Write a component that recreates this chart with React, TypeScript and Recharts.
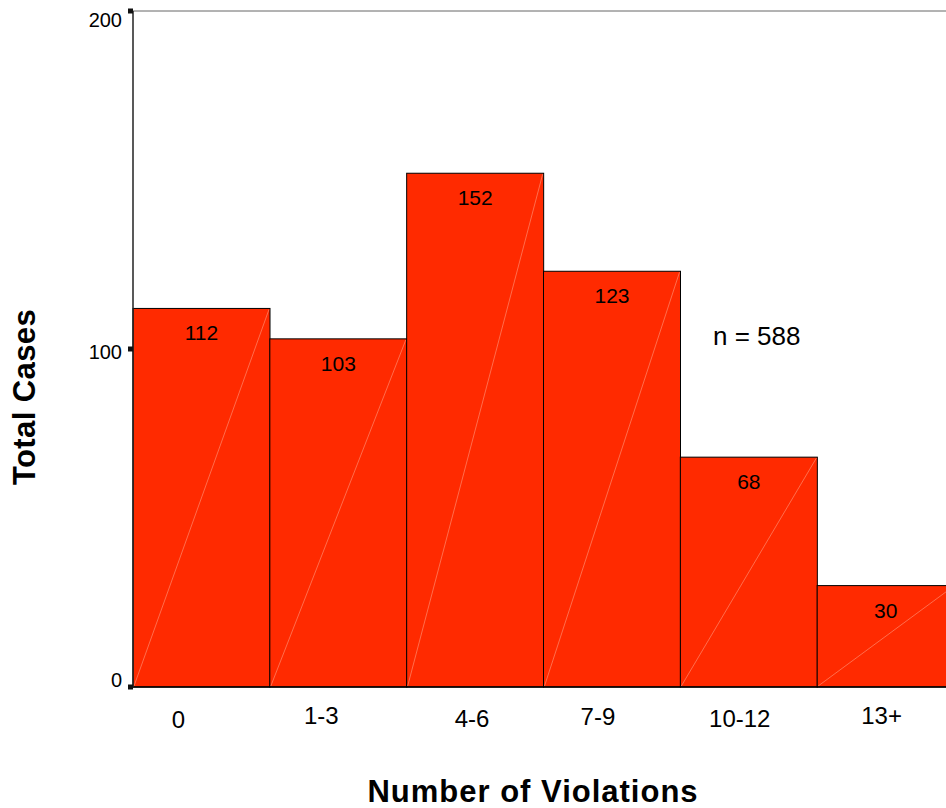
import { BarChart, Bar, XAxis, YAxis, ReferenceLine, LabelList } from "recharts";

const categories = ["0", "1-3", "4-6", "7-9", "10-12", "13+"];
const totalCases = [112, 103, 152, 123, 68, 30];
const yTicks = [0, 100, 200];
const sampleSize = 588;

const data = categories.map((c, i) => ({ range: c, cases: totalCases[i] }));

const FONT = '"Liberation Sans", Arial, sans-serif';

// the original staggers its category labels a little, keep that look
const xTickNudge = [
  { dx: -23, dy: 41 },
  { dx: -17, dy: 37 },
  { dx: -3, dy: 40 },
  { dx: -14, dy: 38 },
  { dx: -9, dy: 40 },
  { dx: -4, dy: 37 },
];
const yTickNudge: Record<number, number> = { 0: 0, 100: 10, 200: 16 };

const XTick = (props: any) => {
  const { x, y, payload, index } = props;
  const n = xTickNudge[index] ?? { dx: 0, dy: 38 };
  return (
    <text x={x + n.dx} y={y + n.dy} textAnchor="middle" fontSize={24} fontFamily={FONT} fill="#000">
      {payload.value}
    </text>
  );
};

const YTick = (props: any) => {
  const { x, y, payload } = props;
  return (
    <text x={x} y={y + (yTickNudge[payload.value] ?? 7)} textAnchor="end" fontSize={20} fontFamily={FONT} fill="#000">
      {payload.value}
    </text>
  );
};

// flat red block with the faint diagonal seam the original export has
const SeamBar = (props: any) => {
  const { x, y, width, height, fill } = props;
  return (
    <g>
      <rect x={x} y={y} width={width} height={height} fill={fill} stroke="#000" strokeWidth={1} />
      <line x1={x + 1} y1={y + height - 1} x2={x + width - 1} y2={y + 1} stroke="#ff9a80" strokeWidth={0.6} />
    </g>
  );
};

const ValueLabel = (props: any) => {
  const { x, y, width, value } = props;
  return (
    <text x={x + width / 2} y={y + 32} textAnchor="middle" fontSize={21} fontFamily={FONT} fill="#000">
      {value}
    </text>
  );
};

export default function App() {
  return (
    <div style={{ position: "fixed", left: 0, top: 0, width: 946, height: 808, overflow: "hidden", background: "#fff" }}>
      <BarChart
        width={970}
        height={808}
        data={data}
        margin={{ top: 11, right: 16, bottom: 0, left: 0 }}
        barCategoryGap={0}
        barGap={0}
      >
        <ReferenceLine y={200} stroke="#666" strokeWidth={1} />
        <XAxis
          dataKey="range"
          interval={0}
          height={121}
          axisLine={{ stroke: "#000", strokeWidth: 1.5 }}
          tickLine={false}
          tickSize={0}
          tickMargin={0}
          tick={<XTick />}
          label={() => (
            <text
              x={533}
              y={802}
              textAnchor="middle"
              fontSize={31}
              letterSpacing={1}
              fontWeight="bold"
              fontFamily={FONT}
              fill="#000"
            >
              Number of Violations
            </text>
          )}
        />
        <YAxis
          width={133}
          domain={[0, 200]}
          ticks={yTicks}
          axisLine={{ stroke: "#222", strokeWidth: 1.5 }}
          tickLine={{ stroke: "#111", strokeWidth: 5 }}
          tickSize={5}
          tickMargin={6}
          tick={<YTick />}
          label={() => (
            <text
              x={35}
              y={397}
              textAnchor="middle"
              transform="rotate(-90, 35, 397)"
              fontSize={31}
              letterSpacing={0.4}
              fontWeight="bold"
              fontFamily={FONT}
              fill="#000"
            >
              Total Cases
            </text>
          )}
        />
        <Bar dataKey="cases" fill="#ff2a00" shape={<SeamBar />} isAnimationActive={false}>
          <LabelList dataKey="cases" content={<ValueLabel />} />
        </Bar>
      </BarChart>
      <svg width={946} height={808} style={{ position: "absolute", left: 0, top: 0, pointerEvents: "none" }}>
        <text x={713} y={345} fontSize={26} fontFamily={FONT} fill="#000">
          n = {sampleSize}
        </text>
      </svg>
    </div>
  );
}
